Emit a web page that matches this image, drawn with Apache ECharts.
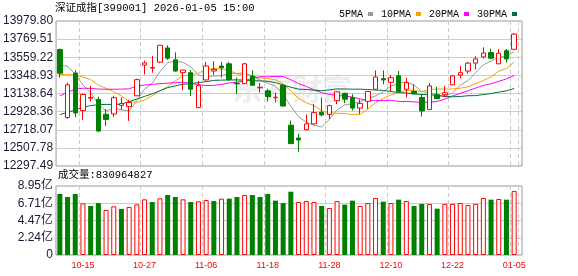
<!DOCTYPE html>
<html>
<head>
<meta charset="utf-8">
<script src="https://cdn.jsdelivr.net/npm/echarts@6/dist/echarts.min.js"></script>
<style>
  html, body { margin: 0; padding: 0; background: #fff; }
  #chart { width: 578px; height: 276px; }
</style>
</head>
<body>
<div id="chart"></div>
<script>
// trading days shown (MM-DD)
const dates = ['10-10','10-13','10-14','10-15','10-16','10-17','10-20','10-21','10-22','10-23',
  '10-24','10-27','10-28','10-29','10-30','10-31','11-03','11-04','11-05','11-06',
  '11-07','11-10','11-11','11-12','11-13','11-14','11-17','11-18','11-19','11-20',
  '11-21','11-24','11-25','11-26','11-27','11-28','12-01','12-02','12-03','12-04',
  '12-05','12-08','12-09','12-10','12-11','12-12','12-15','12-16','12-17','12-18',
  '12-19','12-22','12-23','12-24','12-25','12-26','12-29','12-30','12-31','01-05']

const opens = [13649,12860,13376,12940,13084,13070,12898,12901,13001,12986,
  13112,13468,13434,13502,13667,13529,13380,13380,12975,13296,
  13399,13457,13483,13257,13253,13342,13204,13170,13089,13234,
  12771,12622,12718,12786,12921,12894,13055,13139,13093,12970,
  13047,13188,13311,13268,13345,13188,13162,13093,12952,13124,
  13124,13239,13353,13399,13491,13563,13613,13483,13636,13652]
const closes = [13374,13239,12913,13127,13093,12703,12837,13089,13021,13035,
  13299,13494,13440,13698,13548,13399,13411,13188,13230,13457,
  13418,13437,13299,13250,13483,13234,13211,13101,13096,12993,
  12557,12599,12786,12917,12890,12998,13158,13073,12970,13024,
  13162,13330,13296,13322,13162,13265,13135,12936,13227,13078,
  13147,13342,13380,13491,13540,13609,13548,13606,13540,13827]
const lows = [13322,12846,12863,12832,13047,12691,12763,12867,12947,12821,
  13110,13360,13380,13491,13529,13391,13177,13108,12970,13290,
  13353,13322,13284,13131,13245,13230,13150,13047,13035,12990,
  12553,12462,12711,12783,12875,12840,13016,13027,12940,12901,
  12959,13185,13245,13162,13158,13093,13127,12871,12950,13075,
  13093,13235,13314,13368,13418,13544,13537,13480,13498,13650]
const highs = [13661,13265,13411,13139,13227,13101,12959,13112,13093,13062,
  13311,13521,13575,13701,13698,13617,13414,13411,13284,13506,
  13514,13506,13506,13322,13494,13406,13261,13193,13150,13245,
  12825,12672,12894,13016,13093,13009,13162,13150,13131,13073,
  13165,13406,13406,13353,13399,13322,13245,13124,13261,13216,
  13227,13353,13457,13506,13571,13675,13659,13652,13655,13839]

const ma5 = [13468,13455,13360,13240,13149,13015,12935,12970,12949,12937,
  13056,13188,13258,13393,13496,13516,13499,13449,13355,13337,
  13341,13346,13368,13372,13377,13341,13295,13256,13225,13127,
  12992,12869,12806,12770,12750,12838,12950,13007,13018,13045,
  13077,13112,13156,13227,13254,13275,13236,13164,13145,13128,
  13105,13146,13235,13288,13380,13472,13514,13559,13569,13626]
const ma10 = [13360,13357,13353,13330,13300,13235,13200,13160,13110,13043,
  13036,13062,13114,13171,13217,13286,13344,13354,13374,13417,
  13429,13423,13409,13364,13357,13341,13321,13312,13299,13252,
  13167,13082,13031,12998,12939,12915,12910,12907,12894,12898,
  12958,13031,13082,13123,13150,13176,13174,13160,13186,13191,
  13190,13191,13200,13217,13254,13289,13330,13397,13429,13503]
const ma20 = [13112,13152,13188,13200,13198,13190,13188,13188,13190,13192,
  13227,13236,13245,13253,13259,13265,13270,13255,13242,13230,
  13233,13243,13262,13268,13287,13314,13333,13333,13337,13335,
  13298,13253,13220,13181,13148,13128,13116,13110,13097,13075,
  13063,13057,13057,13061,13045,13046,13042,13034,13040,13045,
  13074,13111,13141,13170,13202,13233,13252,13279,13308,13347]
const ma30 = [12894,12921,12947,12978,12998,13009,13012,13012,13015,13045,
  13075,13105,13135,13170,13207,13227,13246,13253,13265,13276,
  13291,13294,13296,13296,13294,13288,13285,13280,13265,13237,
  13211,13189,13185,13178,13171,13181,13192,13191,13189,13189,
  13185,13179,13174,13162,13149,13144,13135,13126,13126,13114,
  13105,13101,13104,13113,13114,13127,13138,13155,13170,13197]

// volume, in 亿
const volumes = [7.91,7.52,7.91,6.70,6.36,6.74,5.84,6.31,5.97,6.23,
  6.57,7.22,6.87,7.35,7.78,7.52,7.22,6.87,6.96,7.13,
  7.00,7.31,7.31,7.52,7.78,7.78,7.52,7.91,7.05,6.74,
  8.21,6.87,7.00,6.87,6.36,6.10,7.00,6.53,7.05,6.36,
  6.74,7.39,6.92,6.74,7.18,7.00,6.36,6.62,6.62,6.01,
  6.62,6.62,6.74,6.49,6.62,7.39,7.18,7.26,7.18,8.31]

const priceLabels = ['12297.49','12507.78','12718.07','12928.36','13138.64','13348.93','13559.22','13769.51','13979.80']
const volLabels = ['0','2.24亿','4.47亿','6.71亿','8.95亿']
const maNames = ['5PMA', '10PMA', '20PMA', '30PMA']

const priceMin = 12297.49
const priceMax = 13979.80
const volMax = 8.95

const upColor = '#ff0000'
const downColor = '#008000'
const maColors = ['#999999', '#f5a300', '#ff00ff', '#00703c']
const labelFont = "'Liberation Sans', 'Noto Sans CJK SC', sans-serif"
const monoFont = "'Liberation Mono', 'Noto Sans CJK SC', monospace"

const chart = echarts.init(document.getElementById('chart'))

const candles = dates.map((d, i) => [opens[i], closes[i], lows[i], highs[i]])
// volume bar colour follows close vs previous close
const volData = volumes.map((v, i) => {
  const up = i > 0 && closes[i] >= closes[i - 1]
  return {
    value: v,
    itemStyle: up ? {color: '#fff', borderColor: upColor, borderWidth: 1} : {color: downColor}
  }
})

const showTick = (idx) => idx % 8 === 3
const vSplit = {show: true, interval: showTick, lineStyle: {color: '#cccccc', type: [4, 3]}}

chart.setOption({
  animation: false,
  legend: {
    left: 334,
    top: 4,
    data: maNames,
    icon: 'rect',
    align: 'right',
    itemWidth: 5,
    itemHeight: 4,
    itemGap: 8,
    textStyle: {fontSize: 10, fontFamily: monoFont, color: '#000'}
  },
  graphic: [
    {
      type: 'text', left: 55, top: 3, z: 10,
      style: {text: '深证成指[399001] 2026-01-05 15:00', font: '10.5px ' + monoFont, fill: '#000'}
    },
    {
      type: 'text', left: 58, top: 170, z: 10,
      style: {text: '成交量:830964827', font: '10.5px ' + monoFont, fill: '#000'}
    },
    {
      type: 'text', left: 232, top: 74, z: -1,
      style: {text: '东方财富', font: 'bold 30px "Noto Sans CJK SC"', fill: 'rgba(0,0,0,0.07)'}
    }
  ],
  grid: [
    {left: 56, right: 60, top: 21, height: 145},
    {left: 56, right: 60, top: 186, height: 69},
    {left: 56, right: 56, top: 21, height: 145, show: true, borderColor: '#999', borderWidth: 1},
    {left: 56, right: 56, top: 186, height: 69, show: true, borderColor: '#999', borderWidth: 1}
  ],
  xAxis: [
    {
      type: 'category', gridIndex: 0, data: dates, boundaryGap: true,
      axisLine: {show: false}, axisTick: {show: false}, axisLabel: {show: false},
      splitLine: vSplit
    },
    {
      type: 'category', gridIndex: 1, data: dates, boundaryGap: true,
      axisLine: {show: false}, axisTick: {show: false},
      axisLabel: {interval: showTick, color: '#ff0000', fontSize: 9, fontFamily: labelFont, margin: 6},
      splitLine: vSplit
    },
    {type: 'value', gridIndex: 2, show: false, min: 0, max: 1},
    {type: 'value', gridIndex: 3, show: false, min: 0, max: 1}
  ],
  yAxis: [
    {type: 'value', gridIndex: 0, min: priceMin, max: priceMax, interval: (priceMax - priceMin) / 8, show: false},
    {type: 'value', gridIndex: 1, min: 0, max: volMax, interval: volMax / 4, show: false},
    {
      type: 'value', gridIndex: 2, min: priceMin, max: priceMax, interval: (priceMax - priceMin) / 8,
      axisLine: {show: false}, axisTick: {show: false},
      axisLabel: {
        formatter: (v, i) => priceLabels[i], showMinLabel: true, showMaxLabel: true,
        fontSize: 12, fontFamily: labelFont, color: '#1a1a33', margin: 3
      },
      splitLine: {lineStyle: {color: '#cccccc'}}
    },
    {
      type: 'value', gridIndex: 3, min: 0, max: volMax, interval: volMax / 4,
      axisLine: {show: false}, axisTick: {show: false},
      axisLabel: {
        formatter: (v, i) => volLabels[i], showMinLabel: true, showMaxLabel: true,
        fontSize: 12, fontFamily: labelFont, color: '#1a1a33', margin: 3
      },
      splitLine: {lineStyle: {color: '#cccccc'}}
    }
  ],
  series: [
    ...[ma5, ma10, ma20, ma30].map((d, k) => ({
      name: maNames[k],
      type: 'line',
      xAxisIndex: 0,
      yAxisIndex: 0,
      data: d,
      color: maColors[k],
      symbol: 'none',
      lineStyle: {width: 1, color: maColors[k]},
      z: 2
    })),
    {
      type: 'candlestick',
      xAxisIndex: 0,
      yAxisIndex: 0,
      data: candles,
      barWidth: 5,
      itemStyle: {
        color: '#ffffff',
        color0: downColor,
        borderColor: upColor,
        borderColor0: downColor,
        borderWidth: 1
      },
      z: 3
    },
    {
      type: 'bar',
      xAxisIndex: 1,
      yAxisIndex: 1,
      data: volData,
      barWidth: 5
    }
  ]
})
</script>
</body>
</html>
